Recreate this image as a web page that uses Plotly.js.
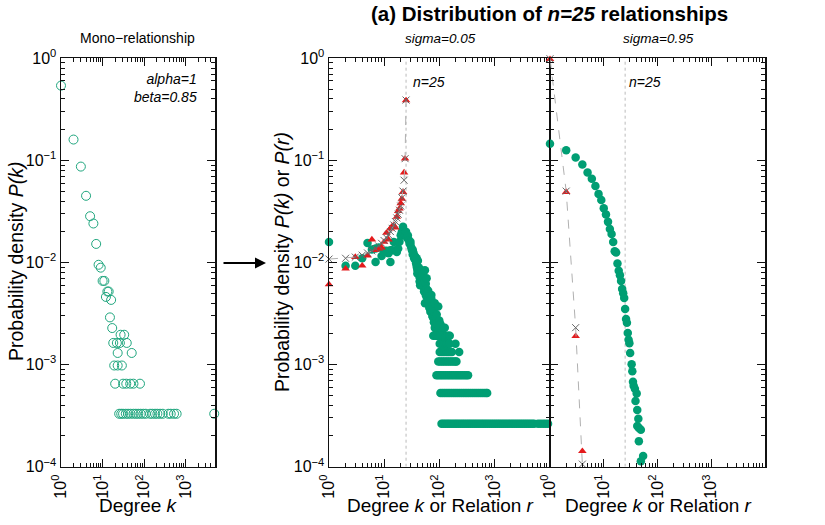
<!DOCTYPE html>
<html><head><meta charset="utf-8">
<script src="https://cdn.plot.ly/plotly-3.0.1.min.js"></script>
<style>html,body{margin:0;padding:0;background:#fff}#chart{width:825px;height:525px}</style>
</head><body><div id="chart"></div>
<script>
const nRel = 25;

// ---------- Left panel: mono-relationship, P(k) ----------
const monoK = [1,2,3,4,5,6,7,8,9,10,11,12,13,14,15,16,17,
  27,33, 18,22,26,38, 23,50, 19,23,29, 20,31,37,46,55,79,
  25,28,31,36,41,47,55,63,72,82,95,109,138,157,182,207,240,279,380,433,520,600,4800];
const monoP = [0.54,0.16,0.087,0.045,0.0284,0.0241,0.0152,0.0095,0.0089,0.0066,0.0066,0.0046,0.0052,0.0052,0.0029,0.0043,0.00228,
  0.00196,0.00196, 0.00163,0.00163,0.00163,0.00163, 0.0013,0.0013, 0.00098,0.00098,0.00098,
  0.00065,0.00065,0.00065,0.00065,0.00065,0.00065,
  0.00033,0.00033,0.00033,0.00033,0.00033,0.00033,0.00033,0.00033,0.00033,0.00033,0.00033,
  0.00033,0.00033,0.00033,0.00033,0.00033,0.00033,0.00033,0.00033,0.00033,0.00033,0.00033,0.00033];

// ---------- Middle panel: sigma = 0.05 ----------
const midCloudK = [1,2,3,4,5,6,7,7,8,9,10,11,12,13,13,14,15,16,17,18,19,20,21,22,23,24,25,26,27,28,29,30,30,31,32,33,33,34,35,36,36,37,38,39,39,40,40,41,42,43,43,44,44,44,45,45,47,47,47,50,50,51,51,53,53,55,55,55,55,57,57,59,59,59,61,61,63,63,63,66,66,69,69,72,72,72,75,75,77,80,80,83,83,87,87,90,90,96,96,96,100,100,105,105,110,110,115,120,126,135,135,145];
const midCloudP = [0.0159,0.0093,0.0093,0.011,0.0155,0.0134,0.0101,0.0137,0.014,0.0116,0.0127,0.013,0.0123,0.0101,0.0132,0.0132,0.0159,0.0132,0.0127,0.0137,0.016,0.0185,0.02,0.0224,0.019,0.0185,0.02,0.0175,0.0184,0.0165,0.0153,0.0152,0.016,0.014,0.0132,0.0133,0.012,0.0125,0.011,0.0116,0.0114,0.0105,0.0098,0.011,0.0091,0.0085,0.0078,0.0104,0.009,0.0084,0.008,0.0087,0.0072,0.0065,0.006,0.007,0.0084,0.0072,0.0066,0.006,0.0075,0.0058,0.006,0.007,0.0052,0.0084,0.0067,0.004,0.0058,0.0062,0.0048,0.007,0.0046,0.0055,0.005,0.004,0.0053,0.004,0.0044,0.0048,0.0036,0.0043,0.0033,0.0044,0.0034,0.0048,0.0038,0.003,0.0029,0.0033,0.0026,0.004,0.0023,0.0029,0.0025,0.0021,0.0031,0.0037,0.0019,0.0022,0.0023,0.0027,0.0019,0.0025,0.0016,0.0021,0.0019,0.0023,0.0023,0.0019,0.0016,0.0019];
const rowLevels = [0.000264,0.000527,0.000785,0.00107,0.00133,0.0016,0.00192];
const row1K = [110,119,129,140,151,164,178,193,209,226,245,266,288,313,339,367,398,432,468,507,550,596,646,700,759,822,891,966,1047,1135,1230,1334,1445,1567,1698,1841,1995,2163,2344,2541,2754,2985,3236,3508,3802,4121,4467,4842,5248,6200,6900,7700,8500,9400];
const row2K = [105,114,123,133,144,156,169,183,198,214,232,251,272,294,318,344,373,403,437,473,512,554,600,650,704,740];
const row3K = [89,96,104,112,121,131,142,153,166,179,194,210,227,245,265,287,310,333];
const row4K = [96,103,111,119,128,138,148,159,171,184,198,205];
const row5K = [102,110,118,127,137,147,158,170,230];
const row6K = [102,110,118,127,137,147,155,197];
const row7K = [78,84,90,97,104,112,120,129,139,150,155];
const midRelR = [1,2,3,4,5,6,7,8,9,10,11,12,13,14,15,16,17,18,19,20,21,22,23,24,25];
const midRelP = [0.0061,0.0087,0.0113,0.0093,0.0117,0.0168,0.0132,0.0137,0.014,0.0159,0.0195,0.0168,0.0215,0.0227,0.023,0.022,0.028,0.0318,0.0338,0.038,0.042,0.049,0.076,0.104,0.387];
const midTheoP = [0.0108,0.011,0.0113,0.0118,0.0124,0.013,0.0137,0.0145,0.0154,0.0164,0.0175,0.0187,0.0201,0.0216,0.0233,0.0252,0.0273,0.0297,0.0325,0.0357,0.043,0.05,0.064,0.104,0.39];

// ---------- Right panel: sigma = 0.95 ----------
const hiDegK = [1,2,3,4,5,6,7,8,9,10,11,12,13,14,15,16,17,18,19,20,21,22,23,24,25,26,27,28,29,30,31,33,34,35,36,38,41,39,42,44,42,45,49,45,54,49];
const hiDegP = [0.1455,0.126,0.107,0.091,0.076,0.066,0.056,0.047,0.041,0.034,0.0296,0.025,0.0213,0.019,0.0159,0.0129,0.0125,0.0098,0.0083,0.0075,0.0066,0.0055,0.005,0.0045,0.0035,0.0028,0.00257,0.00204,0.00175,0.00162,0.0013,0.00101,0.00086,0.00068,0.00062,0.00058,0.00052,0.00044,0.00036,0.000295,0.00025,0.00024,0.00023,0.000178,0.000127,0.000113];
const hiRelR = [1,2,3,4];
const hiRelP = [0.98,0.049,0.0019,0.000142];
const hiTheoP = [0.99,0.05,0.0023,0.000106];

// ---------- ticks ----------
const yTickVals = [1e-4,1e-3,1e-2,1e-1,1];
const yTickText = ['10<sup>−4</sup>','10<sup>−3</sup>','10<sup>−2</sup>','10<sup>−1</sup>','10<sup>0</sup>'];
const xTickVals = [1,10,100,1000,10000];
const xTickText = ['10<sup>0</sup>','10<sup>1</sup>','10<sup>2</sup>','10<sup>3</sup>',''];
const minorMult = [2,3,4,5,6,7,8,9];

const minorX = [], minorY = [];
[1,10,100,1000].forEach(d => minorMult.forEach(m => minorX.push(d*m)));
[1e-4,1e-3,1e-2,1e-1].forEach(d => minorMult.forEach(m => minorY.push(d*m)));

const midK = midCloudK.slice(), midP = midCloudP.slice();
[row1K,row2K,row3K,row4K,row5K,row6K,row7K].forEach((row,i) => row.forEach(k => { midK.push(k); midP.push(rowLevels[i]); }));

const GREEN = '#009e73', RED = '#e41a1c', GRAY = '#666666';
const FONT = 'Liberation Sans, Arial, sans-serif';

const traces = [
  {x: monoK, y: monoP, xaxis:'x', yaxis:'y', mode:'markers', cliponaxis:false,
   marker:{symbol:'circle-open', size:9, color:'#1fa67e', line:{width:1}}},
  {x:[nRel,nRel], y:[1e-4,1], xaxis:'x2', yaxis:'y2', mode:'lines', line:{color:'#bbbbbb', width:1, dash:'dot'}},
  {x: midK, y: midP, xaxis:'x2', yaxis:'y2', mode:'markers', cliponaxis:false,
   marker:{symbol:'circle', size:8.5, color:GREEN}},
  {x: midRelR, y: midRelP, xaxis:'x2', yaxis:'y2', mode:'markers', cliponaxis:false,
   marker:{symbol:'triangle-up', size:7.5, color:RED}},
  {x: midRelR, y: midTheoP, xaxis:'x2', yaxis:'y2', mode:'lines+markers', cliponaxis:false,
   line:{color:'#b0b0b0', width:1, dash:'dash'}, marker:{symbol:'x-thin-open', size:7, color:GRAY, line:{width:1, color:GRAY}}},
  {x:[nRel,nRel], y:[1e-4,1], xaxis:'x3', yaxis:'y3', mode:'lines', line:{color:'#bbbbbb', width:1, dash:'dot'}},
  {x: hiDegK, y: hiDegP, xaxis:'x3', yaxis:'y3', mode:'markers', cliponaxis:false,
   marker:{symbol:'circle', size:8.5, color:GREEN}},
  {x: hiRelR, y: hiRelP, xaxis:'x3', yaxis:'y3', mode:'markers', cliponaxis:false,
   marker:{symbol:'triangle-up', size:7.5, color:RED}},
  {x: hiRelR, y: hiTheoP, xaxis:'x3', yaxis:'y3', mode:'lines+markers', cliponaxis:false,
   line:{color:'#b0b0b0', width:1, dash:'dash'}, marker:{symbol:'x-thin-open', size:7, color:GRAY, line:{width:1, color:GRAY}}}
];

const W = 825, H = 525;
const px = v => v / W, py = v => 1 - v / H;

function xAx(domain, range, anchor) {
  return {type:'log', domain:domain, range:range, anchor:anchor, showgrid:false, zeroline:false,
    showline:true, linecolor:'#111', linewidth:1.5, mirror:'allticks', ticks:'inside', ticklen:8, tickwidth:1, tickcolor:'#111',
    tickmode:'array', tickvals:xTickVals, ticktext:xTickText, tickangle:-90,
    tickfont:{family:FONT, size:16, color:'#000'},
    minor:{tickmode:'array', tickvals:minorX, ticks:'inside', ticklen:4, tickwidth:1, tickcolor:'#111', showgrid:false}};
}
function yAx(anchor, labels) {
  return {type:'log', domain:[py(466.7), py(58.3)], range:[-4,0], anchor:anchor, showgrid:false, zeroline:false,
    showline:true, linecolor:'#111', linewidth:1.5, mirror:'allticks', ticks:'inside', ticklen:8, tickwidth:1, tickcolor:'#111',
    tickmode:'array', tickvals:yTickVals, ticktext:yTickText, showticklabels:labels,
    tickfont:{family:FONT, size:16, color:'#000'},
    minor:{tickmode:'array', tickvals:minorY, ticks:'inside', ticklen:4, tickwidth:1, tickcolor:'#111', showgrid:false}};
}

const ann = (x, y, text, size, extra) => Object.assign({xref:'paper', yref:'paper', x:px(x), y:py(y), text:text,
  xanchor:'center', yanchor:'middle',
  showarrow:false, font:{family:FONT, size:size, color:'#000'}}, extra || {});

const layout = {
  width:W, height:H, margin:{l:0,r:0,t:0,b:0}, paper_bgcolor:'#fff', plot_bgcolor:'#fff', showlegend:false,
  font:{family:FONT},
  xaxis: xAx([px(61), px(215)], [0, 3.7], 'y'),
  yaxis: yAx('x', true),
  xaxis2: xAx([px(329), px(549.5)], [0, 4], 'y2'),
  yaxis2: yAx('x2', true),
  xaxis3: xAx([px(550), px(765)], [0, 4], 'y3'),
  yaxis3: yAx('x3', false),
  annotations: [
    ann(549, 13, '<b>(a) Distribution of <i>n=25</i> relationships</b>', 20.5),
    ann(137, 38, 'Mono−relationship', 14),
    ann(440, 38, '<i>sigma=0.05</i>', 13.5),
    ann(658, 38, '<i>sigma=0.95</i>', 13.5),
    ann(199, 88, '<i>alpha=1</i><br><i>beta=0.85</i>', 14, {xanchor:'right', align:'right'}),
    ann(411, 82, '<i>n=25</i>', 14, {xanchor:'left'}),
    ann(627, 82, '<i>n=25</i>', 14, {xanchor:'left'}),
    ann(16, 262, 'Probability density <i>P(k)</i>', 19.5, {textangle:-90}),
    ann(282, 262, 'Probability density <i>P(k)</i> or <i>P(r)</i>', 19.5, {textangle:-90}),
    ann(138, 505, 'Degree <i>k</i>', 19),
    ann(440, 505, 'Degree <i>k</i> or Relation <i>r</i>', 19),
    ann(658, 505, 'Degree <i>k</i> or Relation <i>r</i>', 19),
    {xref:'paper', yref:'paper', x:px(266), y:py(263), ax:-44, ay:0, text:'', showarrow:true,
     arrowhead:2, arrowsize:1.1, arrowwidth:2, arrowcolor:'#000'}
  ]
};

Plotly.newPlot('chart', traces, layout, {displayModeBar:false, staticPlot:true});
</script>
</body></html>
